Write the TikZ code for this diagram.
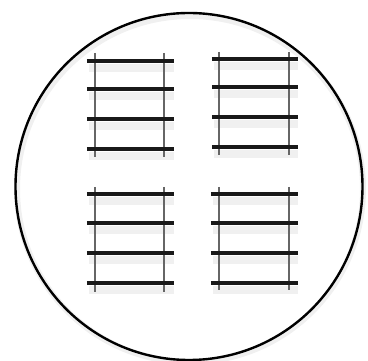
\documentclass[tikz,border=0pt]{standalone}
\begin{document}
\begin{tikzpicture}[x=1pt,y=-1pt,
  rung/.style={line width=3.6pt,black!90},
  rail/.style={line width=2pt,black!60},
  rungshadow/.style={line width=8pt,black,opacity=0.06},
  rim/.style={line width=2.4pt,black}]
\useasboundingbox (0,0) rectangle (368,361);
% circle with faint shadow
\draw[line width=6pt,black,opacity=0.06] (190,189) circle (173);
\draw[rim] (189,186.5) circle (173.5);
% ladders: {rail x1, rail x2, rung x1, rung x2, top, bottom, y1,y2,y3,y4}
\foreach \ra/\rb/\la/\lb/\t/\b/\ya/\yb/\yc/\yd in {
  95/164/87/174/53/157/61/89/119/149,
  219/289/212/298/52/155/59/87/117/147,
  95/164/87/174/187/292/194/223/253/283,
  219/289/211/298/187/290/194/223/253/283}{
  \foreach \y in {\ya,\yb,\yc,\yd}{
    \draw[rungshadow] (\la+2,\y+7) -- (\lb,\y+7);
  }
  \draw[rail] (\ra,\t) -- (\ra,\b);
  \draw[rail] (\rb,\t) -- (\rb,\b);
  \foreach \y in {\ya,\yb,\yc,\yd}{
    \draw[rung] (\la,\y) -- (\lb,\y);
  }
}
\end{tikzpicture}
\end{document}
